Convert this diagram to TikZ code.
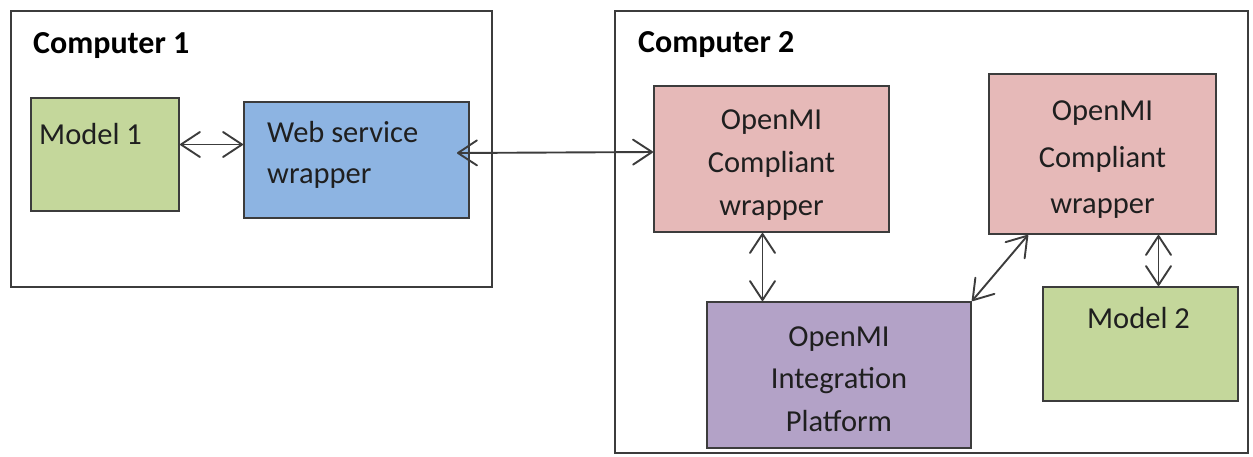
\documentclass[tikz,border=0pt]{standalone}
\usepackage{fontspec}
\setmainfont{Carlito}
\usetikzlibrary{arrows.meta,positioning}

\definecolor{modelgreen}{HTML}{C4D79B}
\definecolor{webblue}{HTML}{8DB4E2}
\definecolor{wrappink}{HTML}{E6B9B8}
\definecolor{platpurple}{HTML}{B3A2C7}
\definecolor{edgegray}{HTML}{3C3C3C}

% plain open V tip
\pgfdeclarearrow{
  name = Vbarb,
  parameters = {\the\pgfarrowlength,\the\pgfarrowwidth},
  setup code = {
    \pgfarrowssettipend{.5\pgflinewidth}
    \pgfarrowssetlineend{0pt}
    \pgfarrowssetvisualbackend{-\pgfarrowlength}
    \pgfarrowssavethe\pgfarrowlength
    \pgfarrowssavethe\pgfarrowwidth
  },
  drawing code = {
    \pgfsetdash{}{0pt}
    \pgfsetroundcap
    \pgfsetroundjoin
    \pgfpathmoveto{\pgfqpoint{-\pgfarrowlength}{.5\pgfarrowwidth}}
    \pgfpathlineto{\pgfpointorigin}
    \pgfpathlineto{\pgfqpoint{-\pgfarrowlength}{-.5\pgfarrowwidth}}
    \pgfusepathqstroke
  },
  defaults = {length=19pt, width=25pt}
}

\tikzset{
  computer/.style={draw=edgegray, line width=2pt, anchor=north west, inner sep=0pt},
  pclabel/.style={font=\fontsize{32}{38}\selectfont\bfseries, anchor=base west, inner sep=0pt},
  block/.style={draw=edgegray, line width=2pt, anchor=north west, inner sep=0pt},
  txt/.style={font=\fontsize{30.5}{43}\selectfont, text=black!88, inner sep=0pt},
  link/.style={edgegray, line width=1.9pt, {Vbarb}-{Vbarb}}
}

\begin{document}
\begin{tikzpicture}[x=1pt,y=-1pt]
\useasboundingbox (0,0) rectangle (1253,456);

% The two computers
\node[computer, minimum width=481pt, minimum height=276pt] (pc1) at (10,10) {};
\node[computer, minimum width=633pt, minimum height=442pt] (pc2) at (614,10) {};
\node[pclabel] (pc1lbl) at ([shift={(23,43)}]pc1.north west) {Computer 1};
\node[pclabel] (pc2lbl) at ([shift={(24,42)}]pc2.north west) {Computer 2};

% Boxes
\node[block, fill=modelgreen, minimum width=148pt, minimum height=113pt] (m1) at (30,97) {};
\node[block, fill=webblue, minimum width=225pt, minimum height=116pt] (web) at (243,101) {};
\node[block, fill=wrappink, minimum width=235pt, minimum height=146pt] (w1) at (653,85) {};
\node[block, fill=wrappink, minimum width=227pt, minimum height=160pt] (w2) at (988,73) {};
\node[block, fill=platpurple, minimum width=264pt, minimum height=146pt] (plat) at (706,301) {};
\node[block, fill=modelgreen, minimum width=195pt, minimum height=114pt] (m2) at (1042,286) {};

% Texts in the boxes
\node[txt, anchor=base west] (m1txt) at ([shift={(9,47)}]m1.north west) {Model 1};
\node[txt, anchor=north west, align=left, font=\fontsize{30.5}{41}\selectfont]
  (webtxt) at ([shift={(24,20)}]web.north west) {Web service\\wrapper};
\node[txt, align=center, yshift=-6pt] (w1txt) at (w1.center) {OpenMI\\Compliant\\wrapper};
\node[txt, align=center, yshift=-6pt, font=\fontsize{30.5}{46.5}\selectfont]
  (w2txt) at (w2.center) {OpenMI\\Compliant\\wrapper};
\node[txt, align=center, yshift=-4pt, font=\fontsize{30.5}{42.5}\selectfont]
  (plattxt) at (plat.center) {OpenMI\\Integration\\Platform};
\node[txt, anchor=base] (m2txt) at ([shift={(-2,42)}]m2.north) {Model 2};

% Connections
\draw[link] ([yshift=10pt]m1.east) -- ([yshift=10pt]m1.east -| web.west);
\draw[link] ([xshift=-13pt,yshift=7pt]web.east) -- ([yshift=7pt]w1.west);
\draw[link] ([xshift=-9pt]w1.south) -- ([xshift=-9pt]w1.south |- plat.north);
\draw[link] ([xshift=40pt]w2.south west) -- (plat.north east);
\draw[link] ([xshift=18pt]m2.north |- w2.south) -- ([xshift=18pt]m2.north);
\end{tikzpicture}
\end{document}
